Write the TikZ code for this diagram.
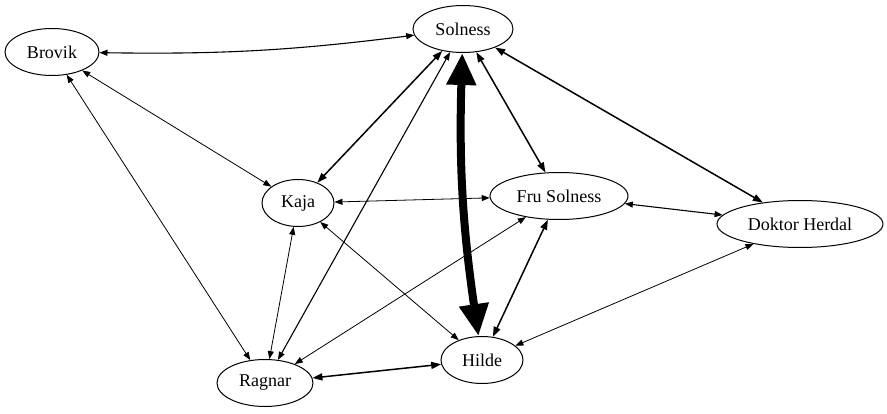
\documentclass[tikz,border=0pt]{standalone}
\usepackage{fontspec}
\setmainfont{Liberation Serif}
\usetikzlibrary{arrows.meta,shapes.geometric}
\tikzset{%
  >={Triangle[width=6pt,length=8pt]},
  % Specifications for style of nodes:
       person/.style = {ellipse, draw=black, line width=1pt, inner sep=0pt,
                        minimum height=47pt, text centered,
                        font=\fontsize{18}{20}\selectfont},
  % Specifications for style of relations:
      weakRel/.style = {<->, line width=0.8pt},
    normalRel/.style = {<->, line width=1.1pt},
    strongRel/.style = {<->, line width=1.5pt,
                        >={Triangle[width=7pt,length=10pt]}},
     heavyRel/.style = {<->, line width=8pt,
                        >={Triangle[width=28pt,length=32pt]}},
}

\begin{document}
\begin{tikzpicture}[x=1pt, y=1pt]
  \useasboundingbox (0,0) rectangle (887,413);
  % Specification of nodes (position, etc.)
  \node (solness)      [person, minimum width=100pt] at (463,384) {Solness};
  \node (brovik)       [person, minimum width=94pt]  at (52,361)  {Brovik};
  \node (kaja)         [person, minimum width=72pt]  at (298,210) {Kaja};
  \node (fruSolness)   [person, minimum width=138pt] at (559,217) {Fru Solness};
  \node (doktorHerdal) [person, minimum width=166pt] at (800,189) {Doktor Herdal};
  \node (hilde)        [person, minimum width=82pt]  at (482,53)  {Hilde};
  \node (ragnar)       [person, minimum width=96pt]  at (265,30)  {Ragnar};

  % Specification of lines between nodes specified above
  \draw[normalRel]     (brovik) to[bend right=4] (solness);
  \draw[weakRel]       (brovik) -- (kaja);
  \draw[weakRel]       (brovik) -- (ragnar);
  \draw[strongRel]    (solness) -- (kaja);
  \draw[normalRel]    (solness) -- (ragnar);
  \draw[heavyRel]     (solness) to[bend right=5] (hilde);
  \draw[strongRel]    (solness) -- (fruSolness);
  \draw[strongRel]    (solness) -- (doktorHerdal);
  \draw[weakRel]         (kaja) -- (fruSolness);
  \draw[weakRel]         (kaja) -- (hilde);
  \draw[weakRel]         (kaja) -- (ragnar);
  \draw[normalRel] (fruSolness) -- (doktorHerdal);
  \draw[strongRel] (fruSolness) -- (hilde);
  \draw[weakRel]   (fruSolness) -- (ragnar);
  \draw[weakRel] (doktorHerdal) -- (hilde);
  \draw[strongRel]     (ragnar) -- (hilde);

\end{tikzpicture}
\end{document}
